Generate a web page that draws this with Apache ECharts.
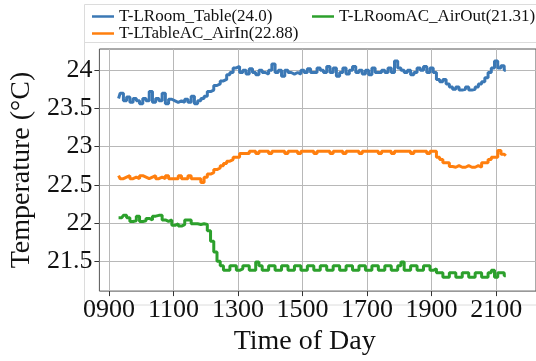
<!DOCTYPE html>
<html><head><meta charset="utf-8">
<script src="https://cdn.jsdelivr.net/npm/echarts@6/dist/echarts.min.js"></script>
<style>html,body{margin:0;padding:0;background:#fff;font-family:"Liberation Serif",serif}#c{width:536px;height:361px}</style>
</head><body><div id="c"></div>
<script>
// sampling: hours of day
const timeStart = 9.3, timeStep = 0.1;
const seriesNames = ['T-LRoom_Table(24.0)', 'T-LTableAC_AirIn(22.88)', 'T-LRoomAC_AirOut(21.31)'];
const roomTable = [
23.63,23.70,23.60,23.65,23.58,23.63,23.60,23.56,23.63,23.60,
23.72,23.58,23.63,23.60,23.70,23.56,23.62,23.60,23.58,23.60,
23.58,23.62,23.58,23.66,23.56,23.60,23.63,23.66,23.72,23.74,
23.80,23.82,23.86,23.88,23.94,23.97,24.03,24.05,23.97,24.00,
23.95,24.02,23.97,23.94,24.00,23.97,23.95,24.00,24.08,23.97,
24.00,23.92,24.00,23.97,23.95,23.97,23.95,24.00,23.97,24.02,
23.97,23.97,24.03,24.00,23.97,24.05,23.97,24.03,23.92,23.97,
24.03,23.95,24.00,24.05,23.97,24.00,23.95,24.00,23.94,24.03,
23.97,23.97,24.00,23.97,24.03,23.97,24.12,24.03,24.00,23.97,
24.00,23.94,23.97,24.03,24.00,24.05,23.97,24.03,23.97,23.88,
23.85,23.88,23.82,23.78,23.75,23.78,23.74,23.75,23.78,23.74,
23.75,23.78,23.82,23.85,23.90,23.97,24.03,24.12,24.03,24.06,
24.00];
const tableAirIn = [
22.62,22.58,22.60,22.62,22.58,22.60,22.58,22.62,22.60,22.58,
22.60,22.62,22.58,22.60,22.58,22.62,22.58,22.58,22.58,22.62,
22.58,22.58,22.62,22.58,22.58,22.58,22.53,22.60,22.64,22.66,
22.70,22.72,22.75,22.78,22.81,22.83,22.86,22.86,22.91,22.91,
22.91,22.94,22.94,22.91,22.94,22.94,22.94,22.91,22.94,22.94,
22.94,22.94,22.91,22.94,22.94,22.94,22.91,22.94,22.94,22.94,
22.94,22.91,22.94,22.94,22.94,22.94,22.91,22.94,22.94,22.94,
22.91,22.94,22.94,22.94,22.94,22.91,22.94,22.94,22.94,22.94,
22.94,22.91,22.94,22.94,22.94,22.91,22.94,22.94,22.94,22.94,
22.94,22.91,22.94,22.94,22.94,22.94,22.91,22.94,22.94,22.86,
22.83,22.79,22.79,22.74,22.73,22.75,22.73,22.73,22.75,22.73,
22.73,22.75,22.73,22.79,22.79,22.83,22.86,22.86,22.95,22.90,
22.88];
const airOut = [
22.07,22.07,22.10,22.07,22.02,22.03,22.09,22.02,22.03,22.06,
22.04,22.09,22.10,22.10,22.04,22.02,22.04,21.97,21.99,21.96,
21.98,22.04,22.04,21.99,21.99,21.98,21.99,21.98,21.90,21.76,
21.62,21.50,21.44,21.38,21.38,21.44,21.44,21.38,21.40,21.44,
21.44,21.38,21.38,21.49,21.44,21.38,21.38,21.44,21.44,21.38,
21.38,21.44,21.44,21.38,21.38,21.44,21.44,21.38,21.38,21.44,
21.44,21.38,21.38,21.44,21.44,21.38,21.38,21.44,21.44,21.38,
21.38,21.44,21.44,21.38,21.38,21.44,21.44,21.38,21.38,21.44,
21.44,21.38,21.38,21.44,21.44,21.38,21.38,21.44,21.49,21.38,
21.38,21.44,21.44,21.38,21.38,21.44,21.44,21.38,21.40,21.35,
21.35,21.29,21.29,21.35,21.35,21.29,21.29,21.35,21.35,21.29,
21.29,21.35,21.35,21.29,21.29,21.35,21.38,21.29,21.35,21.35,
21.31];
const xTicks = [9, 11, 13, 15, 17, 19, 21];
const yTicks = [21.5, 22, 22.5, 23, 23.5, 24];
const colors = ['#3b78b5', '#ff7f0e', '#2ca02c'];

function pairs(vals){ return vals.map((v,i)=>[+(timeStart + i*timeStep).toFixed(2), v]); }
const FONT = 'Liberation Serif';
const chart = echarts.init(document.getElementById('c'), null, {renderer:'canvas'});
chart.setOption({
  animation:false,
  backgroundColor:'#fff',
  textStyle:{fontFamily:FONT},
  grid:{left:90, top:49, width:460, bottom:61, show:true, borderColor:'#555', borderWidth:1, backgroundColor:'transparent'},
  graphic:[
    {type:'rect', shape:{x:84.5,y:4.5,width:470,height:300.5}, style:{fill:'none', stroke:'#dcdcdc', lineWidth:1}, z:-1},
    {type:'line', shape:{x1:84.5,y1:42.5,x2:540,y2:42.5}, style:{stroke:'#dcdcdc', lineWidth:1}, z:-1}
  ],
  legend:[
    {data:[seriesNames[0], seriesNames[1]], orient:'vertical', left:92, top:8, padding:0, icon:'rect', itemWidth:22, itemHeight:2.5, itemGap:0,
     textStyle:{fontFamily:FONT, fontSize:17, color:'#111'}},
    {data:[seriesNames[2]], left:312, top:8, padding:0, icon:'rect', itemWidth:22, itemHeight:2.5,
     textStyle:{fontFamily:FONT, fontSize:17, color:'#111'}}
  ],
  xAxis:{type:'value', min:9 - 10/34, max:9 + 450/34,
    name:'Time of Day', nameLocation:'middle', nameGap:33,
    nameTextStyle:{fontFamily:FONT, fontSize:28, color:'#111', padding:[0,26,0,0]},
    axisLine:{show:false},
    axisTick:{show:true, customValues:xTicks, length:5, inside:false, lineStyle:{color:'#333'}},
    axisLabel:{customValues:xTicks, fontFamily:FONT, fontSize:26, color:'#111', margin:6,
      formatter:v=>(v<10?'0':'')+v+'00'},
    splitLine:{show:true, lineStyle:{color:'#b8b8b8', width:1}}
  },
  yAxis:{type:'value', min:21.5 - 31/79.2, max:24 + 22/79.2,
    name:'Temperature (°C)', nameLocation:'middle', nameGap:56,
    nameTextStyle:{fontFamily:FONT, fontSize:28, color:'#111'},
    axisLine:{show:false},
    axisTick:{show:true, customValues:yTicks, length:5, lineStyle:{color:'#333'}},
    axisLabel:{customValues:yTicks, fontFamily:FONT, fontSize:26, color:'#111', margin:7},
    splitLine:{show:true, lineStyle:{color:'#b8b8b8', width:1}}
  },
  series:[
    {name:seriesNames[0], type:'line', data:pairs(roomTable), step:'middle', showSymbol:false, color:colors[0], lineStyle:{width:3}},
    {name:seriesNames[1], type:'line', data:pairs(tableAirIn), step:'middle', showSymbol:false, color:colors[1], lineStyle:{width:3}},
    {name:seriesNames[2], type:'line', data:pairs(airOut), step:'middle', showSymbol:false, color:colors[2], lineStyle:{width:3}}
  ]
});
</script></body></html>
